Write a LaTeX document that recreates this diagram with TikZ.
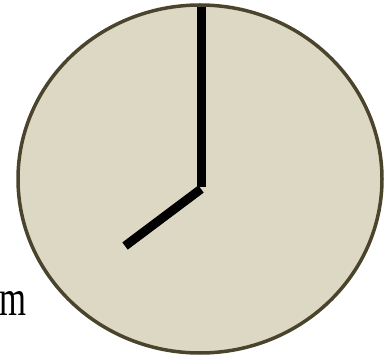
\documentclass[tikz,border=0pt]{standalone}
\usepackage{fontspec}
\setmainfont{Liberation Serif}
\usetikzlibrary{shapes.geometric}
\definecolor{facefill}{RGB}{221,216,196}
\definecolor{faceline}{RGB}{75,68,45}
\tikzset{
  face/.style={ellipse, draw=faceline, fill=facefill, line width=3.5pt, minimum width=364pt, minimum height=348pt, inner sep=0pt},
  hand/.style={line width=9pt, black, line cap=butt}
}
\begin{document}
\begin{tikzpicture}[x=1pt,y=-1pt]
\useasboundingbox (0,0) rectangle (388,355);
\node[face] (face) at (200,179) {};
\coordinate (top) at (201,7);
\coordinate (pivot) at (201,187);
\coordinate (hstart) at (201,189);
\coordinate (hend) at (125,246);
\draw[hand] (top) -- (pivot);
\draw[hand] (hstart) -- (hend);
\node[anchor=base east, inner sep=0pt, xscale=0.68] (label) at (27,315) {\fontsize{51}{51}\selectfont m};
\end{tikzpicture}
\end{document}
